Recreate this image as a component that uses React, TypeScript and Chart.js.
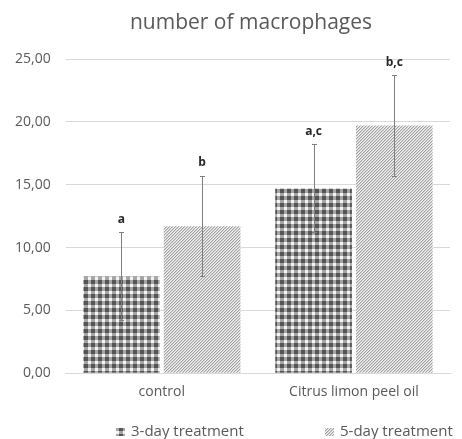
import React, { useEffect, useRef } from "react";
import { Chart, registerables } from "chart.js";

Chart.register(...registerables);

const categories = ["control", "Citrus limon peel oil"];
const seriesNames = ["3-day treatment", "5-day treatment"];
const chartTitle = "number of macrophages";
const threeDay = [7.7, 14.7];
const fiveDay = [11.7, 19.7];
const threeDayErr = [3.5, 3.5];
const fiveDayErr = [4.0, 4.0];
const threeDayLetters = ["a", "a,c"];
const fiveDayLetters = ["b", "b,c"];
const yTicks = [0, 5, 10, 15, 20, 25];

const FONT = "'Open Sans', 'Liberation Sans', sans-serif";
const TEXT = "#595959";

function makeCheckPattern(ctx: CanvasRenderingContext2D) {
  const c = document.createElement("canvas");
  c.width = 7;
  c.height = 7;
  const g = c.getContext("2d")!;
  g.fillStyle = "#f4f4f4";
  g.fillRect(0, 0, 7, 7);
  g.fillStyle = "#a6a6a6";
  g.fillRect(0, 0, 7, 4);
  g.fillRect(0, 0, 4, 7);
  g.fillStyle = "#555555";
  g.fillRect(0, 0, 4, 4);
  return ctx.createPattern(c, "repeat")!;
}

function makeStripePattern(ctx: CanvasRenderingContext2D) {
  const c = document.createElement("canvas");
  c.width = 3;
  c.height = 3;
  const g = c.getContext("2d")!;
  g.fillStyle = "#f2f2f2";
  g.fillRect(0, 0, 3, 3);
  for (let i = 0; i < 3; i++) {
    g.fillStyle = "#a0a0a0";
    g.fillRect(2 - i, i, 1, 1);
    g.fillStyle = "#d2d2d2";
    g.fillRect((3 - i) % 3, i, 1, 1);
  }
  return ctx.createPattern(c, "repeat")!;
}

const errorPlugin = {
  id: "errorBarsLetters",
  afterDatasetsDraw(chart: any) {
    const ctx = chart.ctx as CanvasRenderingContext2D;
    const yScale = chart.scales.y;
    const errs = [threeDayErr, fiveDayErr];
    const letters = [threeDayLetters, fiveDayLetters];
    chart.data.datasets.forEach((ds: any, di: number) => {
      const meta = chart.getDatasetMeta(di);
      meta.data.forEach((bar: any, i: number) => {
        const v = ds.data[i];
        const e = errs[di][i];
        const yTop = yScale.getPixelForValue(v + e);
        const yBot = yScale.getPixelForValue(v - e);
        const x = Math.round(bar.x) + 0.5;
        ctx.save();
        ctx.strokeStyle = "#7f7f7f";
        ctx.lineWidth = 1;
        ctx.beginPath();
        ctx.moveTo(x, yTop);
        ctx.lineTo(x, yBot);
        ctx.moveTo(x - 2.5, Math.round(yTop) + 0.5);
        ctx.lineTo(x + 2.5, Math.round(yTop) + 0.5);
        ctx.moveTo(x - 2.5, Math.round(yBot) + 0.5);
        ctx.lineTo(x + 2.5, Math.round(yBot) + 0.5);
        ctx.stroke();
        ctx.fillStyle = "#262626";
        ctx.font = `bold 12px ${FONT}`;
        ctx.textAlign = "center";
        ctx.textBaseline = "middle";
        ctx.fillText(letters[di][i], bar.x, yTop - 13);
        ctx.restore();
      });
    });
  },
  afterDraw(chart: any) {
    const ctx = chart.ctx as CanvasRenderingContext2D;
    ctx.save();
    // title
    ctx.font = `21px ${FONT}`;
    ctx.fillStyle = TEXT;
    ctx.textAlign = "center";
    ctx.textBaseline = "middle";
    ctx.fillText(chartTitle, 251, 23);
    // legend
    const y = 432;
    const starts = [116, 325];
    ctx.font = `15px ${FONT}`;
    ctx.textAlign = "left";
    chart.data.datasets.forEach((ds: any, di: number) => {
      const x = starts[di];
      ctx.fillStyle = ds.backgroundColor;
      ctx.fillRect(x, y - 4, 9, 8);
      ctx.fillStyle = TEXT;
      ctx.fillText(seriesNames[di], x + 15, y);
    });
    ctx.restore();
  },
};

export default function App() {
  const ref = useRef<HTMLCanvasElement | null>(null);
  useEffect(() => {
    document.body.style.margin = "0";
    const canvas = ref.current!;
    const ctx = canvas.getContext("2d")!;
    const chart = new Chart(ctx, {
      type: "bar",
      data: {
        labels: categories,
        datasets: [
          {
            label: seriesNames[0],
            data: threeDay,
            backgroundColor: makeCheckPattern(ctx) as any,
            categoryPercentage: 0.84,
            barPercentage: 0.95,
          },
          {
            label: seriesNames[1],
            data: fiveDay,
            backgroundColor: makeStripePattern(ctx) as any,
            categoryPercentage: 0.84,
            barPercentage: 0.95,
          },
        ],
      },
      options: {
        animation: false,
        responsive: false,
        maintainAspectRatio: false,
        layout: { padding: { left: 0, right: 12, top: 59, bottom: 29 } },
        plugins: {
          legend: { display: false },
          tooltip: { enabled: false },
          title: { display: false },
        },
        scales: {
          x: {
            grid: { display: false, drawTicks: false },
            border: { display: true, color: "#d9d9d9" },
            ticks: {
              color: TEXT,
              font: { family: FONT, size: 14 },
              padding: 10,
            },
          },
          y: {
            min: 0,
            max: 25,
            afterBuildTicks: (axis: any) => {
              axis.ticks = yTicks.map((v) => ({ value: v }));
            },
            grid: { color: "#d9d9d9", drawTicks: false },
            border: { display: false },
            ticks: {
              color: TEXT,
              font: { family: FONT, size: 14 },
              padding: 15,
              callback: (v: any) => Number(v).toFixed(2).replace(".", ","),
            },
          },
        },
      },
      plugins: [errorPlugin],
    });
    return () => chart.destroy();
  }, []);
  return <canvas ref={ref} width={462} height={439} style={{ display: "block" }} />;
}
